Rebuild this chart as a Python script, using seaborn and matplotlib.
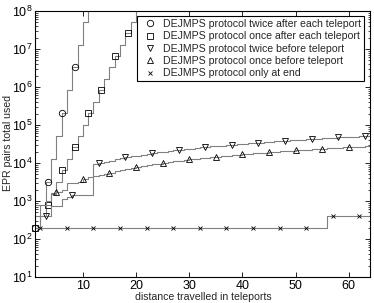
import numpy as np
import pandas as pd
import matplotlib
matplotlib.use("Agg")
import matplotlib.pyplot as plt
import seaborn as sns

# ---------------- data ----------------
x_twice_after = [1, 2, 3, 4, 5, 6, 7, 8, 9, 10, 11]
twice_after = [200, 800, 3200, 12800, 51200, 204800, 819200, 3276800,
               13107200, 52428800, 209715200]

x_once_after = list(range(1, 21))
once_after = [200, 400, 800, 1600, 3200, 6400, 12800, 25600, 51200, 102400,
              204800, 409600, 819200, 1638400, 3276800, 6553600, 13107200,
              26214400, 52428800, 104857600]

x_dist = list(range(1, 65))
twice_before = [400, 400, 400, 750, 750, 1150, 1300, 1450, 1450, 1450,
                1450, 9300, 10000, 10800, 11600, 12400, 13300, 14100, 14900, 15700,
                16500, 17400, 18200, 19000, 19800, 20600, 21500, 22300, 23100, 23900,
                24700, 25600, 26400, 27200, 28000, 28800, 29700, 30500, 31300, 32100,
                32900, 33800, 34600, 35400, 36200, 37000, 37900, 38700, 39500, 40300,
                41100, 42000, 42800, 43600, 44400, 45200, 46100, 46900, 47700, 48500,
                49300, 50200, 51000, 51800]
once_before = [800, 800, 1000, 1500, 1700, 2000, 2900, 3000, 3100, 3900,
               4200, 4500, 4900, 5200, 5600, 6050, 6500, 6950, 7400, 7850,
               8300, 8750, 9200, 9650, 10100, 10600, 11000, 11500, 11900, 12400,
               12800, 13300, 13800, 14200, 14700, 15100, 15600, 16000, 16500, 16900,
               17400, 17800, 18300, 18800, 19200, 19700, 20100, 20600, 21000, 21500,
               21900, 22400, 22800, 23300, 23700, 24200, 24700, 25100, 25600, 26000,
               26500, 26900, 27400, 27800]
only_end = [200] * 55 + [400] * 9

# marker positions (distance values where symbols are drawn, inside the plot)
mx_twice_after = [1, 3.5, 6, 8.5]
mx_once_after = [1, 3.5, 6, 8.5, 11, 13.5, 16, 18.5]
mx_twice_before = [3, 8, 13, 18, 23, 28, 33, 38, 43, 48, 53, 58, 63]
mx_once_before = [5, 10, 15, 20, 25, 30, 35, 40, 45, 50, 55, 60]
mx_only_end = [2, 7, 12, 17, 22, 27, 32, 37, 42, 47, 52, 57, 62]

labels = ["DEJMPS protocol twice after each teleport",
          "DEJMPS protocol once after each teleport",
          "DEJMPS protocol twice before teleport",
          "DEJMPS protocol once before teleport",
          "DEJMPS protocol only at end"]
markers = ["o", "s", "v", "^", "x"]
marker_sizes = [4.6, 4.2, 4.8, 4.8, 3.4]

# ---------------- style ----------------
sns.set_style("ticks")
plt.rcParams["font.family"] = ["Liberation Sans", "DejaVu Sans"]
plt.rcParams.update({
    "xtick.direction": "in", "ytick.direction": "in",
    "xtick.top": True, "ytick.right": True,
    "xtick.major.size": 3.5, "ytick.major.size": 3.5,
    "ytick.minor.size": 1.8, "xtick.minor.size": 0,
    "xtick.major.width": 0.6, "ytick.major.width": 0.6, "ytick.minor.width": 0.5,
    "axes.linewidth": 0.8, "axes.edgecolor": "black",
    "xtick.color": "black", "ytick.color": "black",
    "mathtext.default": "regular",
})

fig = plt.figure(figsize=(3.74, 3.03), dpi=100)
ax = fig.add_axes([35 / 374, 26 / 303, 335 / 374, 266 / 303])
ax.set_yscale("log")

line_color = "#808080"
series = [(x_twice_after, twice_after, mx_twice_after),
          (x_once_after, once_after, mx_once_after),
          (x_dist, twice_before, mx_twice_before),
          (x_dist, once_before, mx_once_before),
          (x_dist, only_end, mx_only_end)]

for (xs, ys, mxs), lab, mk, ms in zip(series, labels, markers, marker_sizes):
    df = pd.DataFrame({"x": xs, "y": ys})
    sns.lineplot(data=df, x="x", y="y", ax=ax, color=line_color,
                 linewidth=0.8, drawstyle="steps-post", legend=False)
    # step value at each marker position
    lookup = dict(zip(xs, ys))
    my = [lookup[int(np.floor(m))] for m in mxs]
    mdf = pd.DataFrame({"x": mxs, "y": my})
    sns.lineplot(data=mdf, x="x", y="y", ax=ax, marker=mk, linestyle="",
                 markersize=ms, markerfacecolor="none",
                 markeredgecolor="black", markeredgewidth=0.6, color="black",
                 label=lab, clip_on=False)

ax.set_xlim(1, 64)
ax.set_ylim(10, 1e8)
ax.set_xticks([10, 20, 30, 40, 50, 60])
ax.tick_params(axis="both", which="major", labelsize=9, pad=2)
ax.set_xlabel("distance travelled in teleports", fontsize=7.6)
ax.set_ylabel("EPR pairs total used", fontsize=7.6)
ax.xaxis.set_label_coords(0.503, -0.055)
ax.yaxis.set_label_coords(-0.066, 0.502)

leg = ax.legend(loc="upper right", bbox_to_anchor=(0.983, 0.982),
                borderaxespad=0, fontsize=7.6, frameon=True, fancybox=False,
                edgecolor="black", framealpha=1, labelspacing=0.22,
                handlelength=2, handletextpad=0.2, borderpad=0.3)
leg.get_frame().set_linewidth(0.8)

fig.savefig("out.png", dpi=100)
